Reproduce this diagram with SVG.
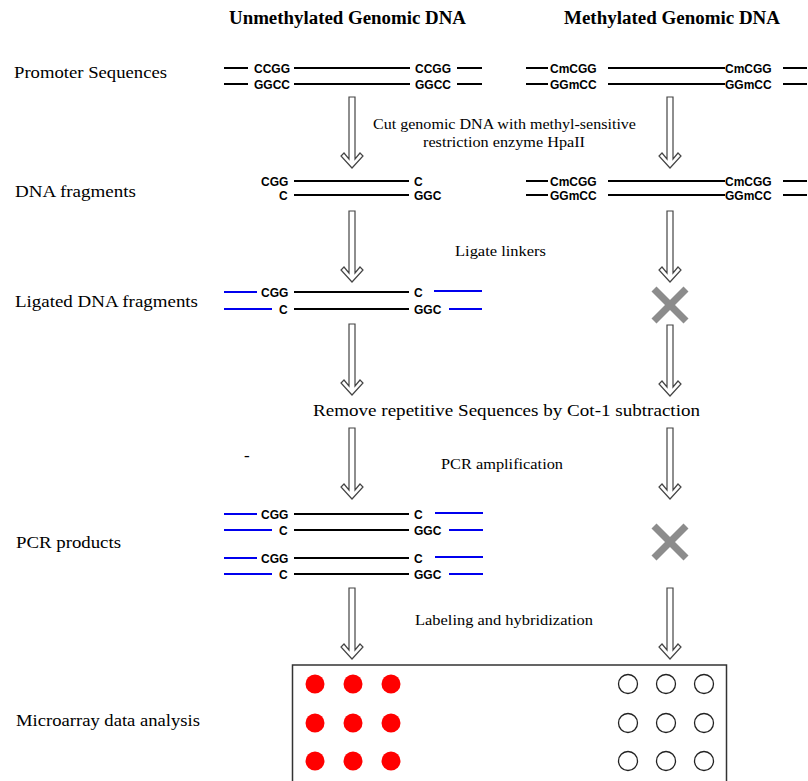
<svg xmlns="http://www.w3.org/2000/svg" xmlns:xlink="http://www.w3.org/1999/xlink" width="808" height="781" viewBox="0 0 808 781">
<style>
.hdr{font-family:"Liberation Serif",serif;font-weight:bold;font-size:18px;fill:#000}
.lbl{font-family:"Liberation Serif",serif;font-size:17px;fill:#000}
.step{font-family:"Liberation Serif",serif;font-size:15px;fill:#000}
.seq{font-family:"Liberation Sans",Arial,sans-serif;font-weight:bold;font-size:12px;fill:#000}
.dna{stroke:#000;stroke-width:2}
.lnk{stroke:#0000ee;stroke-width:2}
.arr{fill:#fff;stroke:#444;stroke-width:1.2}
.xm{stroke:#8c8c8c;stroke-width:7}
.red{fill:#ff0000}
.open{fill:#fff;stroke:#222;stroke-width:1.3}
</style>
<defs>
<path id="arrow" class="arr" d="M-3,0 V62 L-8,56 L-11,59 L0,71 L11,59 L8,56 L3,62 V0 Z"/>
<g id="xmark"><line class="xm" x1="-16" y1="-16" x2="16" y2="16"/><line class="xm" x1="16" y1="-16" x2="-16" y2="16"/></g>
</defs>
<rect width="808" height="781" fill="#fff"/>

<g id="headers">
<text class="hdr" x="229" y="24" textLength="237" lengthAdjust="spacingAndGlyphs">Unmethylated Genomic DNA</text>
<text class="hdr" x="564" y="24" textLength="216" lengthAdjust="spacingAndGlyphs">Methylated Genomic DNA</text>
</g>

<g id="row-labels">
<text class="lbl" x="14" y="78" textLength="153" lengthAdjust="spacingAndGlyphs">Promoter Sequences</text>
<text class="lbl" x="15" y="197" textLength="121" lengthAdjust="spacingAndGlyphs">DNA fragments</text>
<text class="lbl" x="15" y="307" textLength="183" lengthAdjust="spacingAndGlyphs">Ligated DNA fragments</text>
<text class="lbl" x="16" y="548" textLength="105" lengthAdjust="spacingAndGlyphs">PCR products</text>
<text class="lbl" x="16" y="726" textLength="184" lengthAdjust="spacingAndGlyphs">Microarray data analysis</text>
<text class="lbl" x="244" y="461">-</text>
</g>

<g id="step-labels">
<text class="step" x="373" y="129" textLength="263" lengthAdjust="spacingAndGlyphs">Cut genomic DNA with methyl-sensitive</text>
<text class="step" x="423" y="147" textLength="162" lengthAdjust="spacingAndGlyphs">restriction  enzyme HpaII</text>
<text class="step" x="455" y="256" textLength="91" lengthAdjust="spacingAndGlyphs">Ligate linkers</text>
<text class="lbl" x="313" y="416" font-size="17.5" textLength="387" lengthAdjust="spacingAndGlyphs">Remove repetitive Sequences by Cot-1 subtraction</text>
<text class="step" x="441" y="469" textLength="122" lengthAdjust="spacingAndGlyphs">PCR amplification</text>
<text class="step" x="415" y="625" textLength="178" lengthAdjust="spacingAndGlyphs">Labeling and hybridization</text>
</g>

<g id="unmeth-promoter">
<line class="dna" x1="224" y1="68" x2="248" y2="68"/>
<text class="seq" x="254" y="72.5">CCGG</text>
<line class="dna" x1="294" y1="68" x2="410" y2="68"/>
<text class="seq" x="415" y="72.5">CCGG</text>
<line class="dna" x1="457" y1="68" x2="482" y2="68"/>
<line class="dna" x1="224" y1="84" x2="248" y2="84"/>
<text class="seq" x="254" y="88.5">GGCC</text>
<line class="dna" x1="294" y1="84" x2="410" y2="84"/>
<text class="seq" x="415" y="88.5">GGCC</text>
<line class="dna" x1="457" y1="84" x2="482" y2="84"/>
</g>

<g id="meth-promoter">
<line class="dna" x1="526" y1="68" x2="548" y2="68"/>
<text class="seq" x="550" y="72.5">CmCGG</text>
<line class="dna" x1="608" y1="68" x2="725" y2="68"/>
<text class="seq" x="725" y="72.5">CmCGG</text>
<line class="dna" x1="783" y1="68" x2="807" y2="68"/>
<line class="dna" x1="526" y1="84" x2="548" y2="84"/>
<text class="seq" x="550" y="88.5">GGmCC</text>
<line class="dna" x1="608" y1="84" x2="725" y2="84"/>
<text class="seq" x="725" y="88.5">GGmCC</text>
<line class="dna" x1="783" y1="84" x2="807" y2="84"/>
</g>

<g id="unmeth-fragments">
<text class="seq" x="261" y="185.5">CGG</text>
<line class="dna" x1="294" y1="181" x2="409" y2="181"/>
<text class="seq" x="414" y="185.5">C</text>
<text class="seq" x="279" y="199.5">C</text>
<line class="dna" x1="294" y1="195" x2="409" y2="195"/>
<text class="seq" x="414" y="199.5">GGC</text>
</g>

<g id="meth-fragments">
<line class="dna" x1="526" y1="181" x2="548" y2="181"/>
<text class="seq" x="550" y="185.5">CmCGG</text>
<line class="dna" x1="608" y1="181" x2="725" y2="181"/>
<text class="seq" x="725" y="185.5">CmCGG</text>
<line class="dna" x1="783" y1="181" x2="807" y2="181"/>
<line class="dna" x1="526" y1="195" x2="548" y2="195"/>
<text class="seq" x="550" y="199.5">GGmCC</text>
<line class="dna" x1="608" y1="195" x2="725" y2="195"/>
<text class="seq" x="725" y="199.5">GGmCC</text>
<line class="dna" x1="783" y1="195" x2="807" y2="195"/>
</g>

<g id="ligated-fragments">
<line class="lnk" x1="224" y1="292" x2="257" y2="292"/>
<text class="seq" x="261" y="296.5">CGG</text>
<line class="dna" x1="294" y1="292" x2="409" y2="292"/>
<text class="seq" x="414" y="296.5">C</text>
<line class="lnk" x1="434" y1="291" x2="482" y2="291"/>
<line class="lnk" x1="224" y1="309" x2="272" y2="309"/>
<text class="seq" x="279" y="313.5">C</text>
<line class="dna" x1="294" y1="309" x2="409" y2="309"/>
<text class="seq" x="414" y="313.5">GGC</text>
<line class="lnk" x1="449" y1="309" x2="482" y2="309"/>
</g>

<g id="pcr-products">
<line class="lnk" x1="224" y1="514" x2="257" y2="514"/>
<text class="seq" x="261" y="518.5">CGG</text>
<line class="dna" x1="294" y1="514" x2="409" y2="514"/>
<text class="seq" x="414" y="518.5">C</text>
<line class="lnk" x1="435" y1="513" x2="483" y2="513"/>
<line class="lnk" x1="224" y1="530" x2="272" y2="530"/>
<text class="seq" x="279" y="534.5">C</text>
<line class="dna" x1="294" y1="530" x2="409" y2="530"/>
<text class="seq" x="414" y="534.5">GGC</text>
<line class="lnk" x1="449" y1="530" x2="483" y2="530"/>
<line class="lnk" x1="224" y1="558" x2="257" y2="558"/>
<text class="seq" x="261" y="562.5">CGG</text>
<line class="dna" x1="294" y1="558" x2="409" y2="558"/>
<text class="seq" x="414" y="562.5">C</text>
<line class="lnk" x1="435" y1="557" x2="483" y2="557"/>
<line class="lnk" x1="224" y1="574" x2="272" y2="574"/>
<text class="seq" x="279" y="578.5">C</text>
<line class="dna" x1="294" y1="574" x2="409" y2="574"/>
<text class="seq" x="414" y="578.5">GGC</text>
<line class="lnk" x1="449" y1="574" x2="483" y2="574"/>
</g>

<g id="blocked">
<use xlink:href="#xmark" x="670" y="305"/>
<use xlink:href="#xmark" x="670" y="542"/>
</g>

<g id="connectors">
<use xlink:href="#arrow" x="352" y="97"/>
<use xlink:href="#arrow" x="670" y="97"/>
<use xlink:href="#arrow" x="352" y="211"/>
<use xlink:href="#arrow" x="670" y="211"/>
<use xlink:href="#arrow" x="352" y="324"/>
<use xlink:href="#arrow" x="670" y="325"/>
<use xlink:href="#arrow" x="352" y="428"/>
<use xlink:href="#arrow" x="670" y="428"/>
<use xlink:href="#arrow" x="352" y="588"/>
<use xlink:href="#arrow" x="670" y="588"/>
</g>

<g id="microarray">
<rect x="292.5" y="665" width="434" height="130" fill="#fff" stroke="#333" stroke-width="1.5"/>
<circle class="red" cx="315" cy="684" r="9.5"/>
<circle class="red" cx="353" cy="684" r="9.5"/>
<circle class="red" cx="391" cy="684" r="9.5"/>
<circle class="red" cx="315" cy="723" r="9.5"/>
<circle class="red" cx="353" cy="723" r="9.5"/>
<circle class="red" cx="391" cy="723" r="9.5"/>
<circle class="red" cx="315" cy="761" r="9.5"/>
<circle class="red" cx="353" cy="761" r="9.5"/>
<circle class="red" cx="391" cy="761" r="9.5"/>
<circle class="open" cx="628" cy="684" r="9.5"/>
<circle class="open" cx="666" cy="684" r="9.5"/>
<circle class="open" cx="704" cy="684" r="9.5"/>
<circle class="open" cx="628" cy="723" r="9.5"/>
<circle class="open" cx="666" cy="723" r="9.5"/>
<circle class="open" cx="704" cy="723" r="9.5"/>
<circle class="open" cx="628" cy="761" r="9.5"/>
<circle class="open" cx="666" cy="761" r="9.5"/>
<circle class="open" cx="704" cy="761" r="9.5"/>
</g>
</svg>
